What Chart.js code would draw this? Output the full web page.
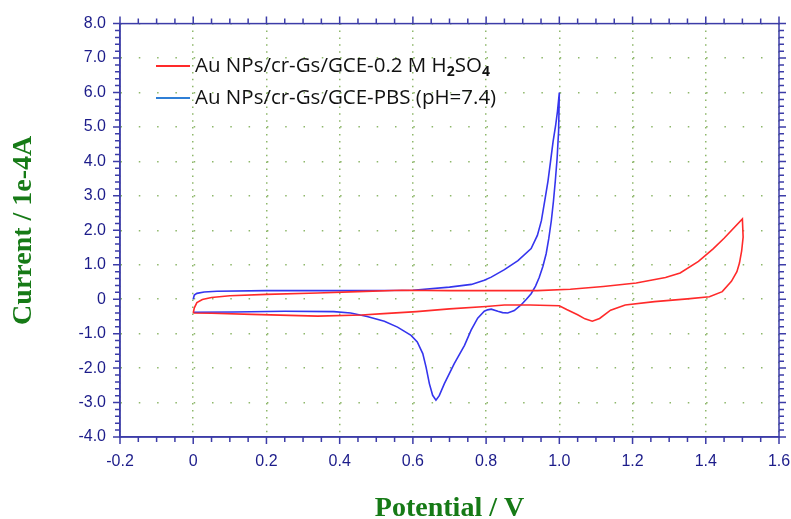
<!DOCTYPE html>
<html>
<head>
<meta charset="utf-8">
<script src="https://cdn.jsdelivr.net/npm/chart.js@4/dist/chart.umd.min.js"></script>
<style>
  body { margin: 0; background: #fff; }
  canvas { display: block; }
</style>
</head>
<body>
<canvas id="cv" width="791" height="519"></canvas>
<script>
// Au NPs/cr-Gs/GCE in 0.2 M H2SO4 (red), scan 0 -> 1.5 -> 0 V
const h2so4Potential = [0.000, 0.003, 0.010, 0.025, 0.05, 0.10, 0.20, 0.34, 0.45, 0.57, 0.70, 0.84, 0.94, 1.03, 1.12, 1.21, 1.29, 1.33, 1.38, 1.42, 1.45, 1.50,
  1.502, 1.498, 1.492, 1.485, 1.47, 1.445, 1.41, 1.35, 1.26, 1.18, 1.14, 1.11, 1.09, 1.07, 1.05, 1.02, 1.00, 0.92, 0.85, 0.80, 0.70, 0.61, 0.52, 0.46, 0.34, 0.16, 0.05, 0.0]
const h2so4Current = [-0.40, -0.25, -0.10, -0.01, 0.05, 0.10, 0.14, 0.18, 0.22, 0.26, 0.25, 0.25, 0.25, 0.29, 0.37, 0.47, 0.63, 0.76, 1.10, 1.46, 1.77, 2.33,
  1.80, 1.40, 1.05, 0.80, 0.52, 0.22, 0.07, 0.01, -0.07, -0.17, -0.32, -0.56, -0.64, -0.57, -0.45, -0.30, -0.19, -0.17, -0.17, -0.21, -0.28, -0.36, -0.42, -0.46, -0.49, -0.44, -0.41, -0.40]

// Au NPs/cr-Gs/GCE in PBS pH 7.4 (blue), scan 0 -> 1.0 -> 0 V
const pbsPotential = [0.0, 0.003, 0.01, 0.03, 0.065, 0.2, 0.4, 0.6, 0.7, 0.76, 0.795, 0.814, 0.85, 0.887, 0.923, 0.94, 0.951, 0.96, 0.969, 0.976, 0.983, 0.990, 0.995, 1.0,
  0.998, 0.994, 0.989, 0.984, 0.978, 0.971, 0.964, 0.955, 0.945, 0.935, 0.923, 0.910, 0.896, 0.877, 0.859, 0.845, 0.832, 0.814, 0.804, 0.795, 0.777, 0.759, 0.741, 0.713, 0.686, 0.672, 0.663, 0.654, 0.645, 0.636, 0.627, 0.612, 0.595, 0.558, 0.522, 0.475, 0.43, 0.384, 0.25, 0.11, 0.0]
const pbsCurrent = [0.0, 0.12, 0.17, 0.21, 0.23, 0.25, 0.25, 0.26, 0.35, 0.43, 0.55, 0.64, 0.86, 1.12, 1.47, 1.85, 2.28, 2.85, 3.43, 4.0, 4.58, 5.05, 5.46, 6.0,
  4.88, 4.1, 3.43, 2.85, 2.27, 1.75, 1.32, 0.95, 0.63, 0.38, 0.16, 0.0, -0.16, -0.33, -0.40, -0.39, -0.35, -0.29, -0.31, -0.35, -0.55, -0.90, -1.34, -1.87, -2.45, -2.80, -2.93, -2.79, -2.45, -1.97, -1.58, -1.24, -1.05, -0.81, -0.64, -0.50, -0.40, -0.36, -0.35, -0.37, -0.38]

const xRange = [-0.2, 1.6]
const yRange = [-4.0, 8.0]
const xMinorStep = 0.05
const yMinorStep = 0.2

// legend text split in pieces so the subscripts can be drawn smaller
const legendH2so4 = [['Au NPs/cr-Gs/GCE-0.2 M H', 0], ['2', 1], ['SO', 0], ['4', 1]]
const legendPbs = [['Au NPs/cr-Gs/GCE-PBS (pH=7.4)', 0]]

const axisBlue = '#3c3ca8'
const labelBlue = '#1c1c8a'
const titleGreen = '#167a16'
const dotGreen = 'rgba(130,175,90,0.9)'

function toPoints(xs, ys){
    var pts = []
    for(var i=0;i<xs.length;i++){
        pts.push({x: xs[i], y: ys[i]})
    }
    return pts
}

// box + minor ticks on all four sides, and the legend inside the plot
const frameTicks = {
    id: 'frameTicks',
    afterDraw(chart){
        const ctx = chart.ctx
        const a = chart.chartArea
        const sx = chart.scales.x
        const sy = chart.scales.y
        ctx.save()
        ctx.strokeStyle = axisBlue
        ctx.lineWidth = 1.5
        ctx.strokeRect(a.left, a.top, a.right - a.left, a.bottom - a.top)
        ctx.beginPath()
        var n = Math.round((xRange[1]-xRange[0])/xMinorStep)
        for(var i=0;i<=n;i++){
            var v = xRange[0] + i*xMinorStep
            var px = sx.getPixelForValue(v)
            var len = (i % 4 === 0) ? 7 : 5
            ctx.moveTo(px, a.bottom); ctx.lineTo(px, a.bottom + len)
            ctx.moveTo(px, a.top); ctx.lineTo(px, a.top - len)
        }
        n = Math.round((yRange[1]-yRange[0])/yMinorStep)
        for(var j=0;j<=n;j++){
            var w = yRange[0] + j*yMinorStep
            var py = sy.getPixelForValue(w)
            var l2 = (j % 5 === 0) ? 7 : 5
            ctx.moveTo(a.left, py); ctx.lineTo(a.left - l2, py)
            ctx.moveTo(a.right, py); ctx.lineTo(a.right + l2, py)
        }
        ctx.stroke()

        // legend
        const items = [[legendH2so4, chart.data.datasets[0].borderColor, 66], [legendPbs, '#2f7fd6', 98]]
        items.forEach(it => {
            ctx.strokeStyle = it[1]
            ctx.lineWidth = 2
            ctx.beginPath()
            ctx.moveTo(156, it[2]); ctx.lineTo(190, it[2])
            ctx.stroke()
            var x = 195
            ctx.fillStyle = '#111'
            ctx.textBaseline = 'middle'
            it[0].forEach(seg => {
                ctx.font = seg[1] ? 'bold 14px "Open Sans"' : '20.5px "Open Sans"'
                ctx.fillText(seg[0], x, it[2] + (seg[1] ? 6 : 0))
                x += ctx.measureText(seg[0]).width
            })
        })
        ctx.restore()
    }
}

new Chart(document.getElementById('cv'), {
    type: 'scatter',
    data: {
        datasets: [{
            label: 'Au NPs/cr-Gs/GCE-0.2 M H2SO4',
            data: toPoints(h2so4Potential, h2so4Current),
            showLine: true,
            borderColor: '#ff2a2a',
            borderWidth: 1.6,
            pointRadius: 0,
            tension: 0
        },{
            label: 'Au NPs/cr-Gs/GCE-PBS (pH=7.4)',
            data: toPoints(pbsPotential, pbsCurrent),
            showLine: true,
            borderColor: '#3535ee',
            borderWidth: 1.6,
            pointRadius: 0,
            tension: 0
        }]
    },
    options: {
        responsive: false,
        animation: false,
        devicePixelRatio: 1,
        layout: { padding: { top: 23, right: 12, left: 0, bottom: 0 } },
        plugins: { legend: { display: false }, tooltip: { enabled: false } },
        scales: {
            x: {
                min: xRange[0], max: xRange[1],
                afterFit: s => { s.height = 82; s.paddingRight = 0; s.paddingLeft = 0 },
                ticks: {
                    stepSize: 0.2,
                    padding: 15,
                    color: labelBlue,
                    font: { family: '"Liberation Sans", Arial', size: 16 },
                    callback: v => Math.abs(v) < 1e-9 ? '0' : v.toFixed(1)
                },
                grid: { color: dotGreen, lineWidth: 1.5, drawTicks: false },
                border: { color: axisBlue, width: 1.5, dash: [1.5, 5.4] },
                title: {
                    display: true, text: 'Potential / V', color: titleGreen,
                    font: { family: '"Liberation Serif", "Times New Roman"', size: 28, weight: 'bold', lineHeight: 1 },
                    padding: { top: 0, bottom: -3.5 }
                }
            },
            y: {
                min: yRange[0], max: yRange[1],
                afterFit: s => { s.width = 120 },
                ticks: {
                    stepSize: 1,
                    padding: 14,
                    color: labelBlue,
                    font: { family: '"Liberation Sans", Arial', size: 16 },
                    callback: v => Math.abs(v) < 1e-9 ? '0' : v.toFixed(1)
                },
                grid: { color: dotGreen, lineWidth: 1.5, drawTicks: false },
                border: { color: axisBlue, width: 1.5, dash: [1.5, 16.8] },
                title: {
                    display: true, text: 'Current / 1e-4A', color: titleGreen,
                    font: { family: '"Liberation Serif", "Times New Roman"', size: 28, weight: 'bold', lineHeight: 1 },
                    padding: { top: 9.5, bottom: 0 }
                }
            }
        }
    },
    plugins: [frameTicks]
})
</script>
</body>
</html>
